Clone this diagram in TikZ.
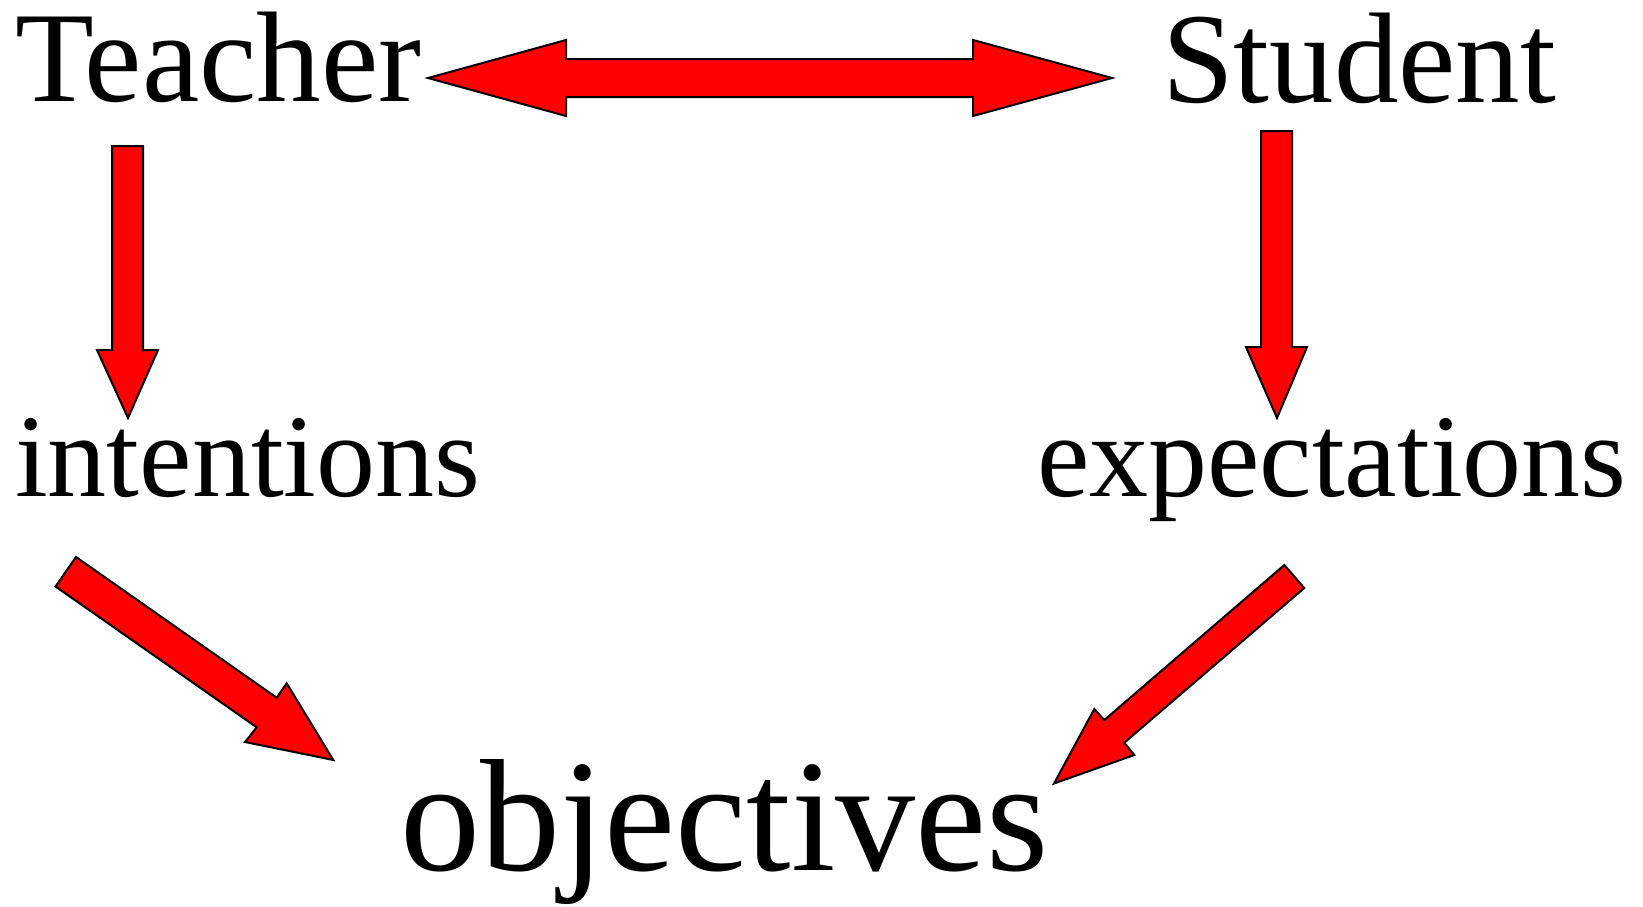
\documentclass[tikz,border=0pt]{standalone}
\usepackage{fontspec}
\setmainfont{Liberation Serif}
\begin{document}
\begin{tikzpicture}[x=0.5pt,y=-0.5pt,
  lbl/.style={anchor=base west,inner sep=0pt,outer sep=0pt,text=black},
  big/.style={lbl,font=\fontsize{64.5pt}{72pt}\selectfont},
  mid/.style={lbl,font=\fontsize{59pt}{66pt}\selectfont},
  huge/.style={lbl,font=\fontsize{80pt}{90pt}\selectfont},
  blockarrow/.style={fill=red,draw=black,line width=1pt,line join=miter}]
\useasboundingbox (0,0) rectangle (1643,906);
\fill[white] (0,0) rectangle (1643,906);
% labels
\node[big]  (teacher)    at (15,101)  {Teacher};
\node[big]  (student)    at (1162,102) {Student};
\node[mid]  (intentions) at (15,496)  {intentions};
\node[mid]  (expect)     at (1037,496) {expectations};
\node[huge] (objectives) at (400,870) {objectives};
% double arrow Teacher <-> Student
\draw[blockarrow] (428,78) -- (566,40) -- (566,59) -- (973,59) -- (973,40)
  -- (1112,78) -- (973,116) -- (973,97) -- (566,97) -- (566,116) -- cycle;
% Teacher -> intentions
\draw[blockarrow] (112,146) -- (143,146) -- (143,350) -- (158,350)
  -- (128,418) -- (97,350) -- (112,350) -- cycle;
% Student -> expectations
\draw[blockarrow] (1261,131) -- (1292,131) -- (1292,347) -- (1307,347)
  -- (1277,418) -- (1246,347) -- (1261,347) -- cycle;
% intentions -> objectives
\draw[blockarrow] (76,557) -- (55.5,586.5) -- (256.7,727.3) -- (245,742)
  -- (333.3,760) -- (286.7,683.3) -- (276.7,697.7) -- cycle;
% expectations -> objectives
\draw[blockarrow] (1284.3,565) -- (1304.3,588) -- (1124.3,742.7) -- (1134.3,755)
  -- (1054,783.5) -- (1094.3,709) -- (1104.3,720) -- cycle;
\end{tikzpicture}
\end{document}
